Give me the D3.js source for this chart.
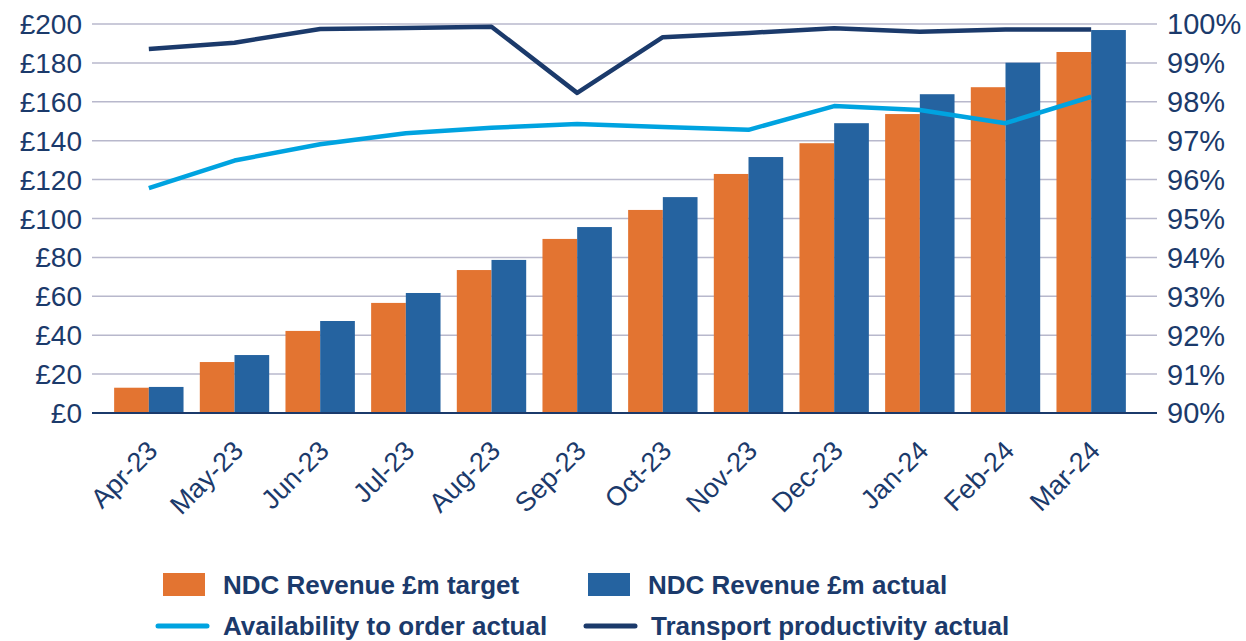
<!DOCTYPE html>
<html>
<head>
<meta charset="utf-8">
<script src="https://cdn.jsdelivr.net/npm/d3@7"></script>
<style>
  body { margin: 0; background: #fff; }
  svg text { fill: #1b3a6b; }
</style>
</head>
<body>
<svg id="chart" width="1246" height="641"></svg>
<script>
// data
const months = ['Apr-23', 'May-23', 'Jun-23', 'Jul-23', 'Aug-23', 'Sep-23', 'Oct-23', 'Nov-23', 'Dec-23', 'Jan-24', 'Feb-24', 'Mar-24'];
const revenueTarget = [13, 26.2, 42.2, 56.6, 73.5, 89.5, 104.4, 122.9, 138.7, 153.7, 167.5, 185.6];
const revenueActual = [13.4, 29.8, 47.3, 61.7, 78.7, 95.6, 111, 131.6, 149, 163.9, 180.1, 196.9];
const availability = [95.78, 96.49, 96.91, 97.19, 97.33, 97.43, 97.35, 97.28, 97.89, 97.79, 97.45, 98.13];
const productivity = [99.36, 99.52, 99.87, 99.9, 99.93, 98.23, 99.66, 99.77, 99.89, 99.8, 99.86, 99.86];
const leftTicks = [0, 20, 40, 60, 80, 100, 120, 140, 160, 180, 200];
const rightTicks = [90, 91, 92, 93, 94, 95, 96, 97, 98, 99, 100];

const C = {
  target: '#e37431',
  actual: '#2563a0',
  avail: '#00a3e0',
  prod: '#1b3a6b',
  grid: '#b8b8cc',
  text: '#1b3a6b'
};

const svg = d3.select('#chart');
const gridLeft = 92, gridRight = 1157, plotTop = 24, plotBottom = 413;
const tickFont = '28px "Liberation Sans", Arial, sans-serif';

const x = d3.scaleBand().domain(months).range([106, 1134]).paddingInner(0.19).paddingOuter(0.095);
const sub = d3.scaleBand().domain(['t', 'a']).range([0, x.bandwidth()]);
const yL = d3.scaleLinear().domain([0, 200]).range([plotBottom, plotTop]);
const yR = d3.scaleLinear().domain([90, 100]).range([plotBottom, plotTop]);

// gridlines
svg.append('g').selectAll('line').data(leftTicks.slice(1)).join('line')
  .attr('x1', gridLeft).attr('x2', gridRight)
  .attr('y1', d => yL(d)).attr('y2', d => yL(d))
  .attr('stroke', C.grid).attr('stroke-width', 1.5);

// left axis labels
svg.append('g').selectAll('text').data(leftTicks).join('text')
  .attr('x', 82).attr('y', d => yL(d))
  .attr('dy', '0.36em').attr('text-anchor', 'end')
  .style('font', tickFont)
  .text(d => '£' + d);

// right axis labels
svg.append('g').selectAll('text').data(rightTicks).join('text')
  .attr('x', 1167).attr('y', d => yR(d))
  .attr('dy', '0.36em').attr('text-anchor', 'start')
  .style('font', '29px "Liberation Sans", Arial, sans-serif')
  .text(d => d + '%');

// bars
const groups = svg.append('g').selectAll('g').data(months).join('g')
  .attr('transform', d => `translate(${x(d)},0)`);
groups.append('rect')
  .attr('x', sub('t')).attr('width', sub.bandwidth())
  .attr('y', (d, i) => yL(revenueTarget[i]))
  .attr('height', (d, i) => plotBottom - yL(revenueTarget[i]))
  .attr('fill', C.target);
groups.append('rect')
  .attr('x', sub('a')).attr('width', sub.bandwidth())
  .attr('y', (d, i) => yL(revenueActual[i]))
  .attr('height', (d, i) => plotBottom - yL(revenueActual[i]))
  .attr('fill', C.actual);

// baseline
svg.append('line')
  .attr('x1', gridLeft).attr('x2', gridRight)
  .attr('y1', plotBottom).attr('y2', plotBottom)
  .attr('stroke', C.text).attr('stroke-width', 2);

// lines
const cx = d => x(d) + x.bandwidth() / 2;
const line = d3.line().x((d, i) => cx(months[i])).y(d => yR(d));
svg.append('path').datum(availability)
  .attr('d', line).attr('fill', 'none')
  .attr('stroke', C.avail).attr('stroke-width', 4.5).attr('stroke-linejoin', 'round');
svg.append('path').datum(productivity)
  .attr('d', line).attr('fill', 'none')
  .attr('stroke', C.prod).attr('stroke-width', 4.5).attr('stroke-linejoin', 'round');

// x labels rotated
svg.append('g').selectAll('text').data(months).join('text')
  .attr('transform', d => `translate(${cx(d) - 3},${plotBottom + 26}) rotate(-45)`)
  .attr('text-anchor', 'end').attr('dy', '0.7em')
  .style('font', '27px "Liberation Sans", Arial, sans-serif')
  .text(d => d);

// legend
const legendFont = 'bold 26px "Liberation Sans", Arial, sans-serif';
const legend = [
  { label: 'NDC Revenue £m target', color: C.target, kind: 'box', x: 163, y: 585 },
  { label: 'NDC Revenue £m actual', color: C.actual, kind: 'box', x: 588, y: 585 },
  { label: 'Availability to order actual', color: C.avail, kind: 'line', x: 158, y: 626 },
  { label: 'Transport productivity actual', color: C.prod, kind: 'line', x: 586, y: 626 }
];
const lg = svg.append('g').selectAll('g').data(legend).join('g')
  .attr('transform', d => `translate(${d.x},${d.y})`);
lg.filter(d => d.kind === 'box').append('rect')
  .attr('x', 0).attr('y', -12).attr('width', 42).attr('height', 23)
  .attr('fill', d => d.color);
lg.filter(d => d.kind === 'line').append('line')
  .attr('x1', 0).attr('x2', 49).attr('y1', 0).attr('y2', 0)
  .attr('stroke', d => d.color).attr('stroke-width', 5).attr('stroke-linecap', 'round');
lg.append('text')
  .attr('x', d => d.kind === 'box' ? 60 : 65).attr('y', 0).attr('dy', '0.36em')
  .style('font', legendFont)
  .text(d => d.label);
</script>
</body>
</html>
